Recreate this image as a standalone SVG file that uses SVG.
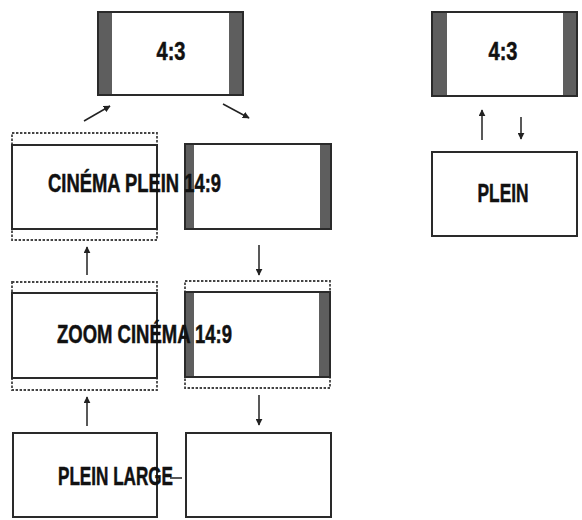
<svg xmlns="http://www.w3.org/2000/svg" width="582" height="520" viewBox="0 0 582 520">
<style>
.box{fill:#fff;stroke:#2a2a2a;stroke-width:2}
.bar{fill:#5e5e5e}
.dot{fill:none;stroke:#444;stroke-width:1.8;stroke-dasharray:2.4 1.6}
.lbl{font-family:"Liberation Sans",Arial,sans-serif;font-weight:bold;font-size:26px;fill:#111;stroke:#111;stroke-width:0.5}
.con{stroke:#222;stroke-width:1.5;fill:none}
</style>
<defs>
<marker id="ah" viewBox="0 0 10 10" refX="9" refY="5" markerWidth="7" markerHeight="7" markerUnits="userSpaceOnUse" orient="auto">
<path d="M0,0 L10,5 L0,10 z" fill="#222"/>
</marker>
</defs>
<rect width="582" height="520" fill="#fff"/>
<g id="n43left">
<rect class="box" x="98" y="12" width="145" height="83"/>
<rect class="bar" x="99" y="13" width="13" height="81"/>
<rect class="bar" x="229" y="13" width="13" height="81"/>
<text class="lbl" x="171" y="60" text-anchor="middle" textLength="29" lengthAdjust="spacingAndGlyphs">4:3</text>
</g>
<g id="ncinemaplein">
<rect class="dot" x="12" y="133" width="145" height="107"/>
<rect class="box" x="12" y="145" width="145" height="84"/>
</g>
<g id="nright2">
<rect class="box" x="185" y="144" width="146" height="85"/>
<rect class="bar" x="186" y="145" width="8" height="83"/>
<rect class="bar" x="320" y="145" width="10" height="83"/>
</g>
<g id="nzoomcinema">
<rect class="dot" x="12" y="282" width="145" height="108"/>
<rect class="box" x="12" y="293" width="145" height="85"/>
</g>
<g id="nright3">
<rect class="dot" x="185" y="281" width="145" height="107"/>
<rect class="box" x="185" y="292" width="145" height="85"/>
<rect class="bar" x="186" y="293" width="8" height="83"/>
<rect class="bar" x="319" y="293" width="10" height="83"/>
</g>
<g id="npleinlarge">
<rect class="box" x="13" y="433" width="144" height="84"/>
</g>
<g id="nright4">
<rect class="box" x="186" y="433" width="145" height="84"/>
</g>
<g id="n43right">
<rect class="box" x="432" y="12" width="145" height="84"/>
<rect class="bar" x="433" y="13" width="14" height="82"/>
<rect class="bar" x="563" y="13" width="13" height="82"/>
<text class="lbl" x="503" y="60" text-anchor="middle" textLength="29" lengthAdjust="spacingAndGlyphs">4:3</text>
</g>
<g id="nplein">
<rect class="box" x="432" y="152" width="145" height="84"/>
<text class="lbl" x="503" y="202" text-anchor="middle" textLength="51" lengthAdjust="spacingAndGlyphs">PLEIN</text>
</g>
<g id="connectors">
<line class="con" x1="84" y1="121" x2="110" y2="106" marker-end="url(#ah)"/>
<line class="con" x1="223" y1="104" x2="249" y2="118" marker-end="url(#ah)"/>
<line class="con" x1="87" y1="275" x2="87" y2="247" marker-end="url(#ah)"/>
<line class="con" x1="259" y1="245" x2="259" y2="275" marker-end="url(#ah)"/>
<line class="con" x1="87" y1="426" x2="87" y2="397" marker-end="url(#ah)"/>
<line class="con" x1="259" y1="395" x2="259" y2="425" marker-end="url(#ah)"/>
<line class="con" x1="170" y1="478" x2="182" y2="478"/>
<line class="con" x1="482" y1="140" x2="482" y2="110" marker-end="url(#ah)"/>
<line class="con" x1="521" y1="117" x2="521" y2="139" marker-end="url(#ah)"/>
</g>
<text class="lbl" x="48" y="192" textLength="173" lengthAdjust="spacingAndGlyphs">CINÉMA PLEIN 14:9</text>
<text class="lbl" x="57" y="343" textLength="175" lengthAdjust="spacingAndGlyphs">ZOOM CINÉMA 14:9</text>
<text class="lbl" x="58" y="485" textLength="115" lengthAdjust="spacingAndGlyphs">PLEIN LARGE</text>
</svg>
